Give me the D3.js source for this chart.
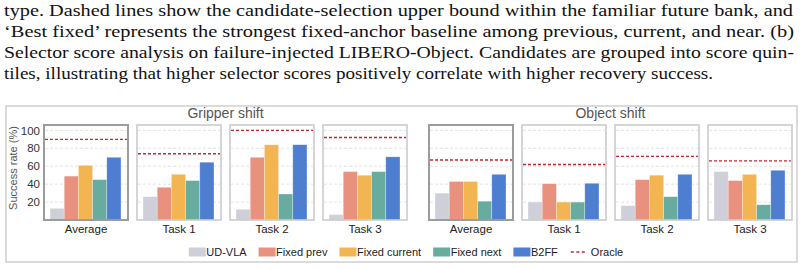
<!DOCTYPE html>
<html>
<head>
<meta charset="utf-8">
<script src="https://cdn.jsdelivr.net/npm/d3@7"></script>
<style>
    body { margin: 0; background: #fff; }
    svg { display: block; }
    .caption { font-family: "Liberation Serif", "DejaVu Serif Condensed", "DejaVu Serif", serif; font-stretch: condensed; }
</style>
</head>
<body>
<svg id="chart" width="804" height="270"></svg>
<script>
const captionLines = [
    "type.  Dashed lines show the candidate-selection upper bound within the familiar future bank, and",
    "\u2018Best fixed\u2019 represents the strongest fixed-anchor baseline among previous, current, and near.  (b)",
    "Selector score analysis on failure-injected LIBERO-Object. Candidates are grouped into score quin-",
    "tiles, illustrating that higher selector scores positively correlate with higher recovery success."
];
const captionWidths = [789, 790, 790, 709];

const tasks = ["Average", "Task 1", "Task 2", "Task 3"];
const methods = ["UD-VLA", "Fixed prev", "Fixed current", "Fixed next", "B2FF"];
const colors = ["#cfcfd9", "#e8917f", "#f3b552", "#68ab9f", "#4e7ed0"];
const oracleColor = "#c3272b";

// success rate (%) per task
const gripperUdVla = [13, 26, 12, 6];
const gripperFixedPrev = [49, 36.5, 70, 54];
const gripperFixedCurrent = [61, 51, 84, 50];
const gripperFixedNext = [45, 44, 29, 54];
const gripperB2ff = [70, 64.5, 84, 70.5];
const gripperOracle = [90, 74, 100, 92];

const objectUdVla = [30, 20, 16, 54];
const objectFixedPrev = [43, 40.5, 45, 44];
const objectFixedCurrent = [43, 20, 50, 51];
const objectFixedNext = [21, 20, 26, 17];
const objectB2ff = [51, 41, 51, 55.5];
const objectOracle = [67, 62, 71, 66];

const yTicks = [20, 40, 60, 80, 100];

const svg = d3.select("#chart");

// caption text above the figure
svg.append("g").selectAll("text")
    .data(captionLines)
    .join("text")
    .attr("class", "caption")
    .attr("x", 4)
    .attr("y", (d, i) => 16 + i * 21)
    .attr("textLength", (d, i) => captionWidths[i])
    .attr("lengthAdjust", "spacingAndGlyphs")
    .style("font-size", "17px")
    .style("fill", "#111")
    .text(d => d);

// figure frame
svg.append("rect")
    .attr("x", 6).attr("y", 106)
    .attr("width", 791).attr("height", 156)
    .attr("fill", "none")
    .attr("stroke", "#cfcfcf")
    .attr("stroke-width", 1.5);

const panelTop = 125, panelBottom = 220;
const groups = [
    {
        title: "Gripper shift", x0: 44,
        series: [gripperUdVla, gripperFixedPrev, gripperFixedCurrent, gripperFixedNext, gripperB2ff],
        oracle: gripperOracle
    },
    {
        title: "Object shift", x0: 429,
        series: [objectUdVla, objectFixedPrev, objectFixedCurrent, objectFixedNext, objectB2ff],
        oracle: objectOracle
    }
];

const y = d3.scaleLinear().domain([0, 106]).range([panelBottom, panelTop]);
const xBar = d3.scaleBand().domain(methods).range([6, 77]);

groups.forEach((grp, gi) => {
    const xPanel = d3.scaleBand().domain(tasks)
        .range([grp.x0, grp.x0 + 363])
        .paddingInner(9 / 93).paddingOuter(0);
    const pw = xPanel.bandwidth();

    svg.append("text")
        .attr("x", (grp.x0 + grp.x0 + 363) / 2)
        .attr("y", 118)
        .attr("text-anchor", "middle")
        .style("font-family", "'Liberation Sans', Arial, sans-serif")
        .style("font-size", "14px")
        .style("fill", "#555")
        .text(grp.title);

    tasks.forEach((task, ti) => {
        const panel = svg.append("g")
            .attr("transform", `translate(${xPanel(task)},0)`);

        // gridlines
        panel.selectAll(".grid")
            .data(yTicks)
            .join("line")
            .attr("class", "grid")
            .attr("x1", 1).attr("x2", pw - 1)
            .attr("y1", d => y(d)).attr("y2", d => y(d))
            .attr("stroke", "#dcdcdc")
            .attr("stroke-width", 0.8)
            .attr("stroke-dasharray", "3,2");

        const vals = grp.series.map(s => s[ti]);
        panel.selectAll(".bar")
            .data(vals)
            .join("rect")
            .attr("class", "bar")
            .attr("x", (d, i) => xBar(methods[i]))
            .attr("width", xBar.bandwidth())
            .attr("y", d => y(d))
            .attr("height", d => y(0) - y(d))
            .attr("fill", (d, i) => colors[i])
            .attr("stroke", "#fff")
            .attr("stroke-opacity", 0.5)
            .attr("stroke-width", 0.6);

        panel.append("line")
            .attr("x1", 1).attr("x2", pw - 1)
            .attr("y1", y(grp.oracle[ti])).attr("y2", y(grp.oracle[ti]))
            .attr("stroke", oracleColor)
            .attr("stroke-width", 1.4)
            .attr("stroke-dasharray", "3,2");

        // panel border, average panels drawn darker
        panel.append("rect")
            .attr("x", 0).attr("y", panelTop)
            .attr("width", pw).attr("height", panelBottom - panelTop)
            .attr("fill", "none")
            .attr("stroke", ti === 0 ? "#9c9c9c" : "#cbcbcb")
            .attr("stroke-width", ti === 0 ? 2 : 1.6);

        panel.append("text")
            .attr("x", pw / 2)
            .attr("y", 233)
            .attr("text-anchor", "middle")
            .style("font-family", "'Liberation Sans', Arial, sans-serif")
            .style("font-size", "11.5px")
            .style("fill", "#222")
            .text(task);
    });

    if (gi === 0) {
        const axis = svg.append("g")
            .attr("transform", `translate(${grp.x0},0)`)
            .call(d3.axisLeft(y).tickValues(yTicks).tickSize(0).tickPadding(4));
        axis.select(".domain").remove();
        axis.selectAll("text")
            .style("font-family", "'Liberation Sans', Arial, sans-serif")
            .style("font-size", "11.5px")
            .style("fill", "#333");
    }
});

svg.append("text")
    .attr("transform", "translate(17,168) rotate(-90)")
    .attr("text-anchor", "middle")
    .style("font-family", "'Liberation Sans', Arial, sans-serif")
    .style("font-size", "11px")
    .style("fill", "#555")
    .text("Success rate (%)");

// legend
const legend = svg.append("g");
const legendItems = methods.concat(["Oracle"]);
let lx = 0;
legendItems.forEach((name, i) => {
    const item = legend.append("g").attr("transform", `translate(${lx},0)`);
    if (name === "Oracle") {
        item.append("line")
            .attr("x1", 1).attr("x2", 16)
            .attr("y1", 252).attr("y2", 252)
            .attr("stroke", oracleColor)
            .attr("stroke-width", 1.6)
            .attr("stroke-dasharray", "3,2.5");
    } else {
        item.append("rect")
            .attr("x", 0).attr("y", 247.5)
            .attr("width", 17).attr("height", 9)
            .attr("fill", colors[i]);
    }
    const t = item.append("text")
        .attr("x", name === "Oracle" ? 21 : 17.5)
        .attr("y", 256)
        .style("font-family", "'Liberation Sans', Arial, sans-serif")
        .style("font-size", "11px")
        .style("fill", "#222")
        .text(name);
    lx += (name === "Oracle" ? 21 : 17.5) + t.node().getComputedTextLength() + 12;
});
legend.attr("transform", `translate(${406 - (lx - 12) / 2},0)`);
</script>
</body>
</html>
